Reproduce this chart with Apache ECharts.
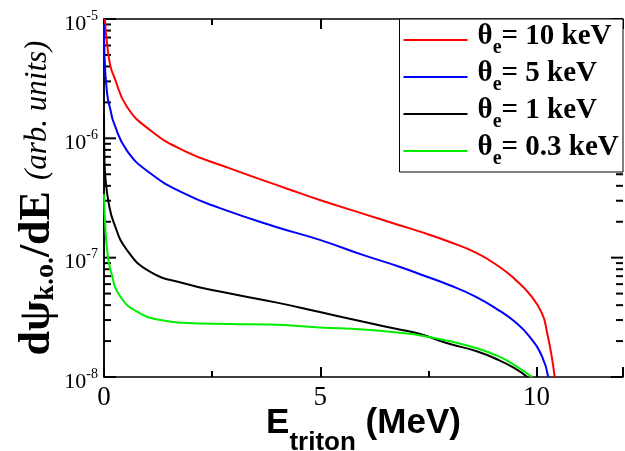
<!DOCTYPE html>
<html>
<head>
<meta charset="utf-8">
<script src="https://cdn.jsdelivr.net/npm/echarts@6/dist/echarts.min.js"></script>
<style>
html, body { margin: 0; padding: 0; background: #fff; }
#main { width: 625px; height: 451px; }
</style>
</head>
<body>
<div id="main"></div>
<script>
// E_triton (MeV) and dpsi/dE values, one pair of arrays per curve
var redE = [0.02, 0.07, 0.15, 0.23, 0.53, 1.07, 1.84, 2.91, 4.22, 4.99, 6.0, 6.83, 7.29, 7.98, 8.6, 9.14, 9.5, 9.83, 10.13, 10.25, 10.35, 10.42];
var redV = [1e-5, 6.25e-6, 4.0e-6, 3.3e-6, 1.84e-6, 1.17e-6, 7.9e-7, 5.6e-7, 3.8e-7, 3.04e-7, 2.33e-7, 1.87e-7, 1.66e-7, 1.36e-7, 1.1e-7, 8.4e-8, 6.6e-8, 5.0e-8, 3.4e-8, 2.3e-8, 1.5e-8, 1e-8];

var blueE = [0.0, 0.01, 0.07, 0.15, 0.23, 0.53, 1.07, 1.84, 2.68, 4.0, 4.99, 6.0, 6.83, 7.29, 7.98, 8.6, 9.14, 9.5, 9.83, 10.13, 10.27];
var blueV = [9e-6, 5.2e-6, 2.4e-6, 1.73e-6, 1.34e-6, 7.9e-7, 5.1e-7, 3.47e-7, 2.6e-7, 1.8e-7, 1.41e-7, 1.05e-7, 8.4e-8, 7.3e-8, 5.9e-8, 4.7e-8, 3.6e-8, 2.9e-8, 2.2e-8, 1.48e-8, 1e-8];

var blackE = [0.0, 0.01, 0.03, 0.11, 0.23, 0.53, 1.07, 1.84, 2.68, 4.0, 4.99, 6.0, 6.83, 7.29, 7.98, 8.6, 9.14, 9.5, 9.79];
var blackV = [1.6e-6, 7e-7, 4.8e-7, 2.85e-7, 1.95e-7, 1.16e-7, 7.6e-8, 6.1e-8, 5.2e-8, 4.2e-8, 3.5e-8, 2.9e-8, 2.5e-8, 2.3e-8, 1.9e-8, 1.65e-8, 1.38e-8, 1.18e-8, 1e-8];

var greenE = [0.0, 0.03, 0.08, 0.15, 0.38, 0.84, 1.3, 1.84, 2.91, 3.84, 4.99, 6.0, 6.83, 7.29, 7.98, 8.6, 9.14, 9.5, 9.9];
var greenV = [3.4e-7, 1.8e-7, 1.1e-7, 7.9e-8, 4.7e-8, 3.4e-8, 3.0e-8, 2.85e-8, 2.78e-8, 2.75e-8, 2.6e-8, 2.5e-8, 2.35e-8, 2.24e-8, 2.0e-8, 1.75e-8, 1.48e-8, 1.25e-8, 1e-8];

var seriesNames = ['10 keV', '5 keV', '1 keV', '0.3 keV'];
var seriesColors = ['#ff0000', '#0000ff', '#000000', '#00ee00'];

// tick values of the log axis: decades and the 2..9 steps inside them
var yMajor = [1e-8, 1e-7, 1e-6, 1e-5];
var yMinor = [2e-8, 3e-8, 4e-8, 5e-8, 6e-8, 7e-8, 8e-8, 9e-8,
              2e-7, 3e-7, 4e-7, 5e-7, 6e-7, 7e-7, 8e-7, 9e-7,
              2e-6, 3e-6, 4e-6, 5e-6, 6e-6, 7e-6, 8e-6, 9e-6];

function pairs(xs, ys) {
    return xs.map(function (x, i) { return [x, ys[i]]; });
}

var serif = 'Liberation Serif';

function xAxisOf(pos, step, len, showLine, withLabels) {
    return {
        type: 'value', min: 0, max: 12, interval: step, position: pos,
        axisLine: { show: showLine, lineStyle: { color: '#000', width: 1.5 } },
        axisTick: { show: true, inside: true, length: len, lineStyle: { color: '#000', width: 2 } },
        axisLabel: withLabels ? {
            show: true, color: '#000', fontFamily: serif, fontSize: 27, margin: 7,
            formatter: function (v) { return v > 10 ? '' : String(v); }
        } : { show: false },
        splitLine: { show: false }
    };
}

function yAxisOf(pos, withLabels) {
    return {
        type: 'log', min: 1e-8, max: 1e-5, position: pos,
        axisLine: { show: true, lineStyle: { color: '#000', width: 1.5 } },
        axisTick: { show: false },
        axisLabel: withLabels ? {
            show: true, margin: 6, padding: [10, 0, 0, 0],
            formatter: function (v) {
                return '{b|10}{s|' + Math.round(Math.log10(v)) + '}';
            },
            rich: {
                b: { fontFamily: serif, fontSize: 22, color: '#000', lineHeight: 30 },
                s: { fontFamily: serif, fontSize: 14, color: '#000', verticalAlign: 'top', lineHeight: 14 }
            }
        } : { show: false },
        splitLine: { show: false }
    };
}

var chart = echarts.init(document.getElementById('main'));

var xAxes = [
    xAxisOf('bottom', 5, 10, true, true),
    xAxisOf('bottom', 2.5, 6, false, false),
    xAxisOf('top', 5, 10, true, false),
    xAxisOf('top', 2.5, 6, false, false)
];
xAxes[0].name = '{b|E}{s|triton}{b| (MeV)}';
xAxes[0].nameLocation = 'middle';
xAxes[0].nameGap = 29;
xAxes[0].nameMoveOverlap = false;
xAxes[0].nameTextStyle = {
    rich: {
        b: { fontFamily: 'Liberation Sans', fontWeight: 'bold', fontSize: 35, color: '#000', lineHeight: 50, verticalAlign: 'top' },
        s: { fontFamily: 'Liberation Sans', fontWeight: 'bold', fontSize: 26, color: '#000', verticalAlign: 'bottom', lineHeight: 18 }
    }
};

var yAxes = [
    yAxisOf('left', true),
    yAxisOf('right', false)
];
yAxes[0].name = '{b|dψ}{s|k.o.}{b|/dE }{i|(arb. units)}';
yAxes[0].nameLocation = 'middle';
yAxes[0].nameGap = 44;
yAxes[0].nameMoveOverlap = false;
yAxes[0].nameTextStyle = {
    rich: {
        b: { fontFamily: serif, fontWeight: 'bold', fontSize: 44, color: '#000', lineHeight: 44 },
        s: { fontFamily: serif, fontWeight: 'bold', fontSize: 28, color: '#000', verticalAlign: 'bottom', lineHeight: 18 },
        i: { fontFamily: serif, fontStyle: 'italic', fontSize: 31, color: '#000', lineHeight: 44 }
    }
};

var curves = [pairs(redE, redV), pairs(blueE, blueV), pairs(blackE, blackV), pairs(greenE, greenV)];

var lineSeries = seriesNames.map(function (name, i) {
    return {
        name: name,
        type: 'line',
        data: curves[i],
        showSymbol: false,
        symbol: 'none',
        smooth: 0.5,
        color: seriesColors[i],
        lineStyle: { color: seriesColors[i], width: 2 }
    };
});

// inward ticks on the left and right frame, placed through the log axis
function yTickSeries(values, len) {
    return {
        type: 'custom',
        coordinateSystem: 'cartesian2d',
        silent: true,
        data: values.map(function (v) { return [0, v]; }),
        renderItem: function (params, api) {
            var left = api.coord([0, api.value(1)]);
            var right = api.coord([12, api.value(1)]);
            return {
                type: 'group',
                children: [
                    { type: 'rect', shape: { x: left[0], y: left[1] - 1, width: len, height: 2 }, style: { fill: '#000' } },
                    { type: 'rect', shape: { x: right[0] - len, y: right[1] - 1, width: len, height: 2 }, style: { fill: '#000' } }
                ]
            };
        }
    };
}

var option = {
    animation: false,
    grid: { left: 104, right: 2, top: 19, bottom: 74, outerBoundsMode: 'none' },
    xAxis: xAxes,
    yAxis: yAxes,
    legend: {
        data: seriesNames,
        orient: 'vertical',
        right: 2,
        top: 19,
        backgroundColor: '#fff',
        borderColor: '#000',
        borderWidth: 1,
        padding: [3, 4, 3, 4],
        icon: 'rect',
        itemWidth: 64,
        itemHeight: 2,
        itemGap: 1,
        formatter: function (name) {
            return '{t|θ}{e|e}{v|= ' + name + '}{z| }';
        },
        textStyle: {
            color: '#000',
            rich: {
                t: { fontFamily: serif, fontWeight: 'bold', fontSize: 29, color: '#000', lineHeight: 30, verticalAlign: 'top', padding: [0, 0, 0, 5] },
                e: { fontFamily: serif, fontWeight: 'bold', fontSize: 20, color: '#000', lineHeight: 16, verticalAlign: 'bottom' },
                v: { fontFamily: serif, fontWeight: 'bold', fontSize: 29, color: '#000', lineHeight: 30, verticalAlign: 'top' },
                z: { fontSize: 1, lineHeight: 36 }
            }
        }
    },
    series: lineSeries.concat([yTickSeries(yMajor, 12), yTickSeries(yMinor, 7)])
};

chart.setOption(option);

window.onresize = chart.resize;
</script>
</body>
</html>
